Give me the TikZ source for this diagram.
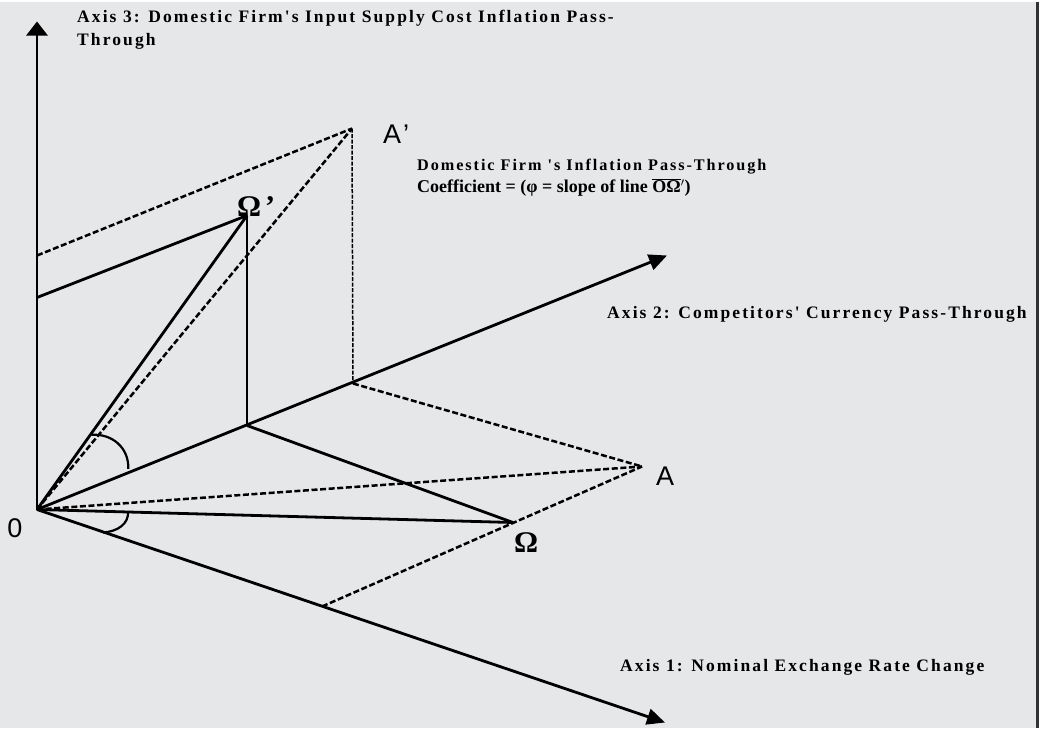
\documentclass[tikz,border=0pt]{standalone}
\usepackage{fontspec}
\setmainfont{Liberation Serif}
\newfontfamily\spacedfont[LetterSpace=12]{Liberation Serif}
\newfontfamily\pointfont{Liberation Sans}
\usepackage{tikz}
\usetikzlibrary{arrows.meta, calc}
\definecolor{panelbg}{RGB}{230,231,233}
\definecolor{framegray}{RGB}{50,50,50}
\tikzset{
  axis/.style={-{Triangle[length=18pt,width=16pt]}, line width=2.8pt},
  solidline/.style={line width=2.8pt},
  dashline/.style={line width=2.5pt, dash pattern=on 6pt off 2.6pt},
  thindash/.style={line width=1.5pt, dash pattern=on 4pt off 1.5pt},
  anglearc/.style={line width=2.2pt},
  axislabel/.style={
    font=\spacedfont\bfseries\fontsize{17.5}{23}\selectfont,
    inner sep=0pt,
    align=left
  },
  pointlabel/.style={font=\pointfont\fontsize{27}{27}\selectfont, inner sep=0pt},
  omegalabel/.style={font=\bfseries\fontsize{30}{30}\selectfont, inner sep=0pt}
}

\begin{document}
\begin{tikzpicture}[x=1pt, y=-1pt]
% panel
\fill[white] (0,0) rectangle (1044,726);
\fill[panelbg] (0,0) rectangle (1037,726);
\draw[framegray, line width=3pt] (1037,0) -- (1037,726);
\useasboundingbox (0,0) rectangle (1044,726);

% points of the 3-d sketch
\coordinate (O) at (37,508);
\coordinate (t3) at (37,20);
\coordinate (t2) at (667,254);
\coordinate (t1) at (665,721);
\coordinate (Wp) at (247,214);
\coordinate (Ap) at (352,127);
\coordinate (w2) at (247,424);
\coordinate (a2) at (353,382);
\coordinate (W) at (513,521);
\coordinate (A) at (642,465);
\coordinate (q1) at (322,605);
\coordinate (w3) at (37,296);
\coordinate (a3) at (37,254);

% solid lines
\draw[solidline] (O) -- (Wp);
\draw[solidline] (w3) -- (Wp);
\draw[line width=2.2pt] (Wp) -- (w2);
\draw[solidline] (O) -- (W);
\draw[solidline] (w2) -- (W);

% dashed lines
\draw[dashline] (O) -- (Ap);
\draw[dashline] (a3) -- (Ap);
\draw[thindash] (Ap) -- (a2);
\draw[dashline] (a2) -- (A);
\draw[dashline] (O) -- (A);
\draw[dashline] (q1) -- (A);

% axes
\draw[axis, -{Triangle[length=14pt,width=21pt]}] (O) -- (t3);
\draw[axis] (O) -- (t2);
\draw[axis] (O) -- (t1);

% angles
\coordinate (arc1s) at (91.7,433.3);
\coordinate (arc1e) at (128.3,467.3);
\coordinate (arc2s) at (103,531);
\coordinate (arc2e) at (128,510);
\draw[anglearc] (arc1s) .. controls (112,432) and (129,446) .. (arc1e);
\draw[anglearc] (arc2s) .. controls (118,530) and (129,522) .. (arc2e);

% labels
\node[axislabel, anchor=north west] (ax3) at (77,8)
  {Axis 3: Domestic Firm's Input Supply Cost Inflation Pass-\\Through};
\node[axislabel, anchor=west] (ax2) at (607,313)
  {Axis 2: Competitors' Currency Pass-Through};
\node[axislabel, anchor=west] (ax1) at (620,666)
  {Axis 1: Nominal Exchange Rate Change};
\node[anchor=north west, inner sep=0pt, align=left,
      font=\bfseries\fontsize{16.2}{17}\selectfont] (coef) at (417,157)
  {{\spacedfont Domestic Firm 's Inflation Pass-Through}\\[4pt]
   {\fontsize{18}{17}\selectfont Coefficient = (φ = slope of line $\overline{\hbox{OΩ}}{}^{\prime}$)}};

\node[pointlabel] (lblO) at (15,527) {0};
\node[pointlabel] (lblA) at (665,475) {A};
\node[pointlabel, anchor=base west] (lblAp) at (383,142) {A\kern2pt’};
\node[omegalabel, anchor=base west] (lblWp) at (237,215) {Ω\kern4pt’};
\node[omegalabel, anchor=base west] (lblW) at (514,551) {Ω};
\end{tikzpicture}
\end{document}
